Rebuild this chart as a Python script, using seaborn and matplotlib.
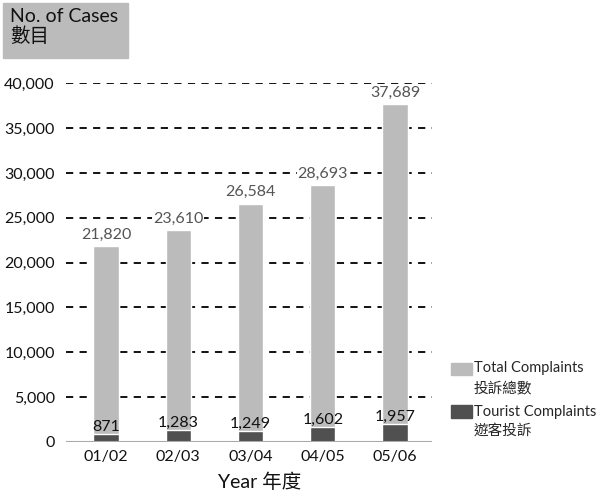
import matplotlib
matplotlib.use('Agg')
import matplotlib.pyplot as plt
import seaborn as sns
import pandas as pd
from matplotlib.patches import Rectangle

# data
years = ['01/02', '02/03', '03/04', '04/05', '05/06']
total = [21820, 23610, 26584, 28693, 37689]
tourist = [871, 1283, 1249, 1602, 1957]
yticks = [0, 5000, 10000, 15000, 20000, 25000, 30000, 35000, 40000]

sns.set_style('white')
plt.rcParams['font.family'] = ['Lato', 'Noto Sans CJK TC', 'DejaVu Sans']

df = pd.DataFrame({'year': years, 'total': total, 'tourist': tourist})

W, H = 598, 492
fig = plt.figure(figsize=(W / 100, H / 100), dpi=100)
ax = fig.add_axes([66 / W, 1 - 441.7 / H, 366 / W, (441.7 - 83.3) / H])

# dashed gridlines behind bars
for y in yticks[1:]:
    ax.axhline(y, color='black', lw=1.3, ls=(0, (4, 3.5)), zorder=0)

sns.barplot(data=df, x='year', y='total', color='#bbbbbb', width=0.35,
            saturation=1, ax=ax, zorder=2)
sns.barplot(data=df, x='year', y='tourist', color='#505050', width=0.35,
            saturation=1, ax=ax, zorder=3)

lbls = ax.bar_label(ax.containers[0], labels=[f'{v:,}' for v in total],
                    color='#555555', fontsize=11.5, padding=3)
for t in lbls:
    t.set_bbox(dict(facecolor='white', edgecolor='none', pad=0.5))
ax.bar_label(ax.containers[1], labels=[f'{v:,}' for v in tourist],
             color='#111111', fontsize=11.5, padding=0)

ax.axhline(0, color='#aaaaaa', lw=1.5, zorder=4)
ax.set_ylim(0, 40000)
ax.set_xlim(-0.553, 4.51)
ax.set_yticks(yticks)
ax.set_yticklabels([f'{v:,}' for v in yticks], fontsize=11.5, color='#111111')
ax.set_xticks(range(len(years)))
ax.set_xticklabels(years, fontsize=11.5, color='#111111')
ax.tick_params(length=0, axis='y', pad=8)
ax.tick_params(length=0, axis='x', pad=6)
ax.set_xlabel('')
ax.set_ylabel('')
for s in ax.spines.values():
    s.set_visible(False)

# y title box
fig.patches.append(Rectangle((3 / W, 1 - 58 / H), 125 / W, 55 / H,
                             transform=fig.transFigure, color='#bbbbbb'))
fig.text(10 / W, 1 - 8 / H, 'No. of Cases\n數目', fontsize=14, va='top',
         ha='left', linespacing=1.1, color='#111111')

# x title
fig.text(260 / W, 1 - 482 / H, 'Year 年度', fontsize=14, ha='center',
         va='center', color='#111111')

# legend
fig.patches.append(Rectangle((451 / W, 1 - 375 / H), 21 / W, 12 / H,
                             transform=fig.transFigure, color='#bbbbbb'))
fig.patches.append(Rectangle((451 / W, 1 - 418 / H), 21 / W, 13 / H,
                             transform=fig.transFigure, color='#505050'))
fig.text(474 / W, 1 - 368 / H, 'Total Complaints', fontsize=10.5, va='center')
fig.text(474 / W, 1 - 388 / H, '投訴總數', fontsize=10.5, va='center')
fig.text(474 / W, 1 - 412 / H, 'Tourist Complaints', fontsize=10.5, va='center')
fig.text(474 / W, 1 - 431 / H, '遊客投訴', fontsize=10.5, va='center')

fig.savefig('out.png', dpi=100)
